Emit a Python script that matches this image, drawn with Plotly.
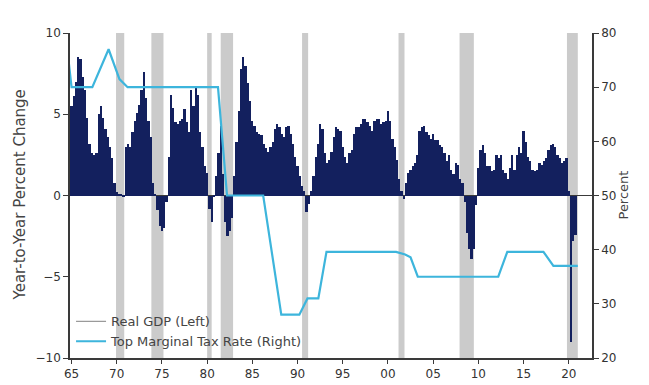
import plotly.graph_objects as go

# ---------------- data ----------------
years = list(range(1965, 2021))
gdp_yoy = [
    5.5, 6.1, 7.0, 8.5,     # 1965
    8.4, 7.3, 6.5, 4.8,     # 1966
    3.2, 2.6, 2.5, 2.6,     # 1967
    5.0, 5.5, 4.8, 4.1,     # 1968
    3.6, 3.0, 2.3, 0.8,     # 1969
    0.2, 0.1, 0.1, -0.1,    # 1970
    3.0, 3.2, 3.0, 3.9,     # 1971
    4.6, 5.1, 5.6, 6.5,     # 1972
    7.6, 6.0, 4.6, 3.6,     # 1973
    0.8, 0.1, -0.9, -1.9,   # 1974
    -2.2, -2.0, -0.4, 2.4,  # 1975
    6.2, 5.4, 4.5, 4.4,     # 1976
    4.6, 4.7, 5.3, 4.5,     # 1977
    3.9, 6.5, 5.5, 6.7,     # 1978
    6.2, 3.9, 3.0, 1.8,     # 1979
    1.4, -0.8, -1.6, -0.1,  # 1980
    1.2, 2.6, 4.3, 1.3,     # 1981
    -1.6, -2.5, -2.2, -1.4, # 1982
    1.2, 3.3, 5.2, 7.8,     # 1983
    8.5, 8.0, 6.9, 5.8,     # 1984
    4.6, 4.3, 3.9, 3.8,     # 1985
    3.7, 3.2, 2.9, 2.7,     # 1986
    3.0, 3.3, 4.1, 4.4,     # 1987
    4.2, 3.8, 3.6, 4.2,     # 1988
    4.3, 3.8, 3.2, 2.4,     # 1989
    1.8, 1.2, 0.6, 0.3,     # 1990
    -1.0, -0.5, 0.3, 1.2,   # 1991
    2.4, 3.2, 4.4, 4.1,     # 1992
    2.6, 2.0, 2.2, 2.7,     # 1993
    3.6, 4.2, 4.1, 4.0,     # 1994
    3.0, 2.4, 2.0, 2.6,     # 1995
    2.8, 3.8, 4.2, 4.2,     # 1996
    4.4, 4.7, 4.7, 4.5,     # 1997
    4.3, 4.0, 4.6, 4.7,     # 1998
    4.7, 4.4, 4.5, 4.6,     # 1999
    5.2, 4.6, 3.5, 3.0,     # 2000
    2.2, 1.0, 0.3, -0.2,    # 2001
    0.8, 1.4, 1.6, 1.8,     # 2002
    2.0, 2.5, 4.0, 4.2,     # 2003
    4.3, 3.9, 3.7, 3.5,     # 2004
    3.8, 3.4, 3.4, 3.1,     # 2005
    3.0, 2.6, 2.1, 2.5,     # 2006
    1.6, 1.3, 2.0, 1.9,     # 2007
    1.0, 0.8, -0.4, -2.3,   # 2008
    -3.3, -3.9, -3.3, -0.6, # 2009
    1.7, 2.8, 3.1, 2.6,     # 2010
    1.8, 1.8, 1.5, 1.6,     # 2011
    2.5, 2.3, 2.5, 1.6,     # 2012
    1.4, 1.0, 1.7, 2.5,     # 2013
    1.6, 2.5, 3.0, 2.6,     # 2014
    4.0, 3.3, 2.4, 2.1,     # 2015
    1.6, 1.5, 1.6, 2.0,     # 2016
    1.9, 2.1, 2.3, 2.8,     # 2017
    3.1, 3.2, 3.0, 2.5,     # 2018
    2.3, 2.0, 2.1, 2.3,     # 2019
    0.3, -9.0, -2.8, -2.4,  # 2020
]
quarter_offsets = [0.0, 0.25, 0.5, 0.75]
gdp_x = [y + q for y in years for q in quarter_offsets]

tax_x = [1964.7, 1965.0, 1967.3, 1968.3, 1969.1, 1970.3, 1971.2, 1981.2, 1982.2,
         1986.2, 1988.2, 1990.2, 1991.1, 1992.3, 1993.2, 2000.9, 2001.9, 2002.5,
         2003.3, 2012.2, 2013.2, 2017.2, 2018.3, 2021.0]
tax_rate = [74.5, 70, 70, 74, 77, 71.5, 70, 70, 50,
            50, 28, 28, 31, 31, 39.6, 39.6, 39.1, 38.6,
            35, 35, 39.6, 39.6, 37, 37]

rec_start = [1969.92, 1973.83, 1980.0, 1981.5, 1990.5, 2001.17, 2007.92, 2019.8]
rec_end = [1970.83, 1975.17, 1980.5, 1982.87, 1991.17, 2001.83, 2009.5, 2021.0]

tick_years = [1965, 1970, 1975, 1980, 1985, 1990, 1995, 2000, 2005, 2010, 2015, 2020]
tick_text = ["65", "70", "75", "80", "85", "90", "95", "00", "05", "10", "15", "20"]

# ---------------- style ----------------
NAVY = "#13205e"
CYAN = "#3db5dc"
GREY = "#cbcbcb"
AX = "#3a3a3a"
FONT = "DejaVu Sans"

fig = go.Figure()
fig.add_trace(go.Bar(x=gdp_x, y=gdp_yoy, width=0.25, marker=dict(color=NAVY, line=dict(width=0)),
                     showlegend=False, yaxis="y"))
fig.add_trace(go.Scatter(x=[None], y=[None], mode="lines", name="Real GDP (Left)",
                         line=dict(color="#9a9a9a", width=1.2)))
fig.add_trace(go.Scatter(x=tax_x, y=tax_rate, mode="lines", name="Top Marginal Tax Rate (Right)",
                         line=dict(color=CYAN, width=2.2), yaxis="y2"))

for s, e in zip(rec_start, rec_end):
    fig.add_shape(type="rect", xref="x", yref="paper", x0=s, x1=e, y0=0, y1=1,
                  fillcolor=GREY, line=dict(width=0), layer="below")

fig.update_layout(
    width=649, height=385,
    margin=dict(l=70, r=57, t=33, b=27),
    plot_bgcolor="white", paper_bgcolor="white",
    bargap=0,
    font=dict(family=FONT, size=12, color="#333333"),
    xaxis=dict(range=[1964.83, 2022.57], tickvals=tick_years, ticktext=tick_text,
               showgrid=False, zeroline=False, showline=True, linecolor=AX, linewidth=1.5,
               ticks="outside", ticklen=4, tickcolor=AX, tickfont=dict(size=12, color="#333"),
               automargin=False),
    yaxis=dict(range=[-10, 10], tickvals=[-10, -5, 0, 5, 10], showgrid=False,
               zeroline=True, zerolinecolor=AX, zerolinewidth=1,
               showline=True, linecolor=AX, linewidth=1.5, ticks="outside", ticklen=5,
               tickcolor=AX, tickfont=dict(size=12, color="#333"), automargin=False),
    yaxis2=dict(range=[20, 80], tickvals=[20, 30, 40, 50, 60, 70, 80], overlaying="y",
                side="right", showgrid=False, zeroline=False, showline=True, linecolor=AX,
                linewidth=1.5, ticks="outside", ticklen=5, tickcolor=AX,
                tickfont=dict(size=12, color="#333"), automargin=False),
    legend=dict(x=0.002, y=0.005, xanchor="left", yanchor="bottom", bgcolor="rgba(0,0,0,0)",
                font=dict(family=FONT, size=13, color="#444"), itemwidth=30,
                tracegroupgap=0),
    annotations=[
        dict(text="Year-to-Year Percent Change", xref="paper", yref="paper",
             x=-(70 - 19) / 522, y=0.5, textangle=-90, showarrow=False,
             font=dict(family=FONT, size=15, color="#444"), xanchor="center", yanchor="middle"),
        dict(text="Percent", xref="paper", yref="paper",
             x=1 + (623 - 592) / 522, y=0.5, textangle=-90, showarrow=False,
             font=dict(family=FONT, size=13, color="#444"), xanchor="center", yanchor="middle"),
    ],
)

fig.write_html("out.html")
